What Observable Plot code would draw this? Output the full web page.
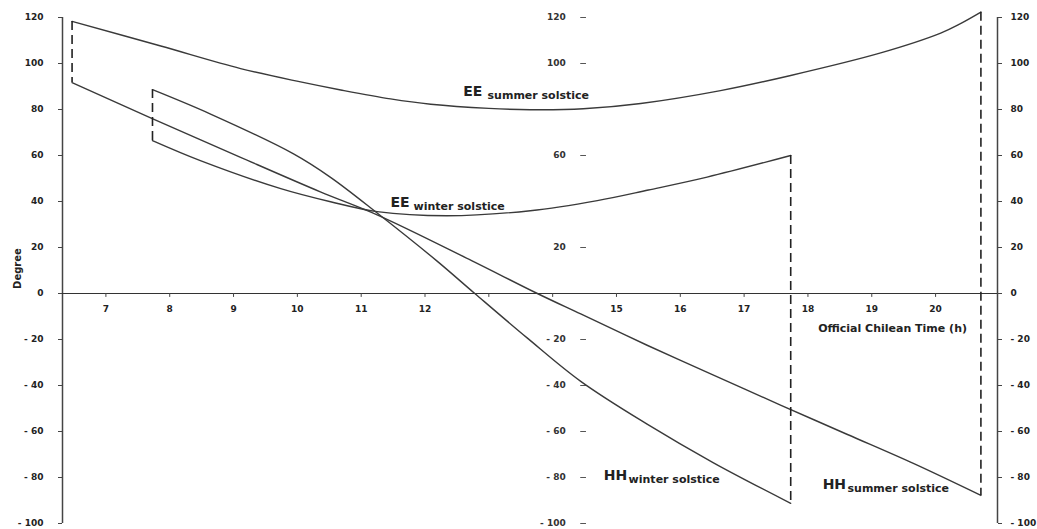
<!DOCTYPE html>
<html><head><meta charset="utf-8">
<script src="https://cdn.jsdelivr.net/npm/d3@7"></script>
<script src="https://cdn.jsdelivr.net/npm/@observablehq/plot@0.6"></script>
<style>html,body{margin:0;padding:0;background:#fff;}#chart{width:1037px;height:529px;overflow:hidden}</style>
</head><body><div id="chart"></div>
<script>
// [hour, degree]
const eeSummer = [[6.47,118.3],[7.86,107.6],[9.11,97.8],[10.05,92.0],[10.68,88.5],[11.46,84.6],[12.09,82.3],[13.0,80.5],[13.65,79.9],[14.48,80.3],[15.38,82.6],[16.63,88.2],[17.73,94.8],[19.14,104.6],[20.08,113.2],[20.39,117.3],[20.71,122.3]];
const hhSummer = [[6.47,91.7],[7.70,76.4],[9.11,59.2],[10.36,44.2],[11.25,34.2],[12.73,14.3],[13.76,0],[14.44,-8.9],[15.48,-22.5],[16.52,-35.5],[17.57,-48.5],[18.61,-61.2],[19.66,-74.0],[20.71,-87.8]];
const eeWinter = [[7.73,66.5],[8.48,57.8],[9.74,45.6],[10.52,39.9],[11.25,35.6],[12.35,33.8],[13.65,36.0],[14.70,40.4],[15.5,45.0],[16.42,50.6],[17.73,60.0]];
const hhWinter = [[7.73,88.6],[8.64,78.0],[9.94,60.7],[10.52,50.5],[11.25,35.0],[12.18,14.3],[12.78,0],[13.6,-19.3],[14.44,-38.2],[15.48,-56.8],[16.52,-73.6],[17.73,-91.2]];

const yTicks = [120,100,80,60,40,20,0,-20,-40,-60,-80,-100];
const middleTicks = [120,100,60,20,-20,-40,-60,-80,-100];
const xTicks = [7,8,9,10,11,12,13,14,15,16,17,18,19,20];
const xTickLabels = [7,8,9,10,11,12,15,16,17,18,19,20];
const xDomain = [6.32, 20.97];
const yDomain = [-100, 120];
const middleAxisHour = 14.44;

const annotations = [
  {main:"EE", sub:"summer solstice", x:12.60, subX:12.98, y:88.0},
  {main:"EE", sub:"winter solstice", x:11.46, subX:11.82, y:39.7},
  {main:"HH", sub:"winter solstice", x:14.80, subX:15.19, y:-79.1},
  {main:"HH", sub:"summer solstice", x:18.23, subX:18.62, y:-83.0}
];
const xTitle = "Official Chilean Time (h)";
const yTitle = "Degree";

const toRows = (pts, name) => pts.map(([h, d]) => ({hour: h, deg: d, series: name}));
const rows = [
  ...toRows(eeSummer, "EE summer"), ...toRows(hhSummer, "HH summer"),
  ...toRows(eeWinter, "EE winter"), ...toRows(hhWinter, "HH winter")
];
const seasons = [[eeSummer, hhSummer], [eeWinter, hhWinter]];
const connectors = seasons.flatMap(([ee, hh]) => [
  {hour: ee[0][0], top: ee[0][1], bottom: hh[0][1]},
  {hour: ee[ee.length-1][0], top: ee[ee.length-1][1], bottom: hh[hh.length-1][1]}
]);
const fmt = v => v < 0 ? "- " + (-v) : String(v);
const txt = "#222";

const chart = Plot.plot({
  width: 1037, height: 529,
  marginLeft: 62, marginRight: 40, marginTop: 17, marginBottom: 6,
  x: {domain: xDomain, axis: null},
  y: {domain: yDomain, axis: null},
  style: {fontFamily: "DejaVu Sans", fontWeight: "bold", fontSize: "9px", color: txt, background: "#fff"},
  marks: [
    Plot.ruleX(xDomain, {y1: yDomain[0], y2: yDomain[1], stroke: "#444", strokeWidth: 1.5}),
    Plot.ruleY([0], {stroke: "#333", strokeWidth: 1.2}),
    Plot.axisY({anchor: "left", ticks: yTicks, tickSize: 4, tickPadding: 15, tickFormat: fmt, stroke: "#444"}),
    Plot.axisY({anchor: "right", ticks: yTicks, tickSize: 4, tickPadding: 9, tickFormat: fmt, stroke: "#444"}),
    Plot.ruleY(middleTicks, {x1: middleAxisHour, x2: middleAxisHour + 0.09, stroke: "#555"}),
    Plot.text(middleTicks, {x: middleAxisHour, y: d => d, text: fmt, textAnchor: "end", dx: -15, fill: "#333"}),
    Plot.ruleX(xTicks, {y1: 0, y2: -1.7, stroke: "#444"}),
    Plot.text(xTickLabels, {x: d => d, y: 0, dy: 16, text: d => String(d), fill: txt}),
    Plot.line(rows, {x: "hour", y: "deg", z: "series", curve: "catmull-rom", stroke: "#3a3a3a", strokeWidth: 1.4}),
    Plot.ruleX(connectors, {x: "hour", y1: "top", y2: "bottom", stroke: "#222", strokeWidth: 1.6, strokeDasharray: "9,5"}),
    Plot.text(annotations, {x: "x", y: "y", text: "main", textAnchor: "start", fontSize: 14, fill: txt}),
    Plot.text(annotations, {x: "subX", y: "y", text: "sub", textAnchor: "start", fontSize: 11, dy: 4, fill: txt}),
    Plot.text([xTitle], {x: 18.16, y: -15.2, text: d => d, textAnchor: "start", fontSize: 11, fill: txt}),
    Plot.text([yTitle], {frameAnchor: "left", y: 2, dx: -45, rotate: -90, text: d => d, fontSize: 10, fill: txt})
  ]
});
document.getElementById("chart").appendChild(chart);
</script>
</body></html>
